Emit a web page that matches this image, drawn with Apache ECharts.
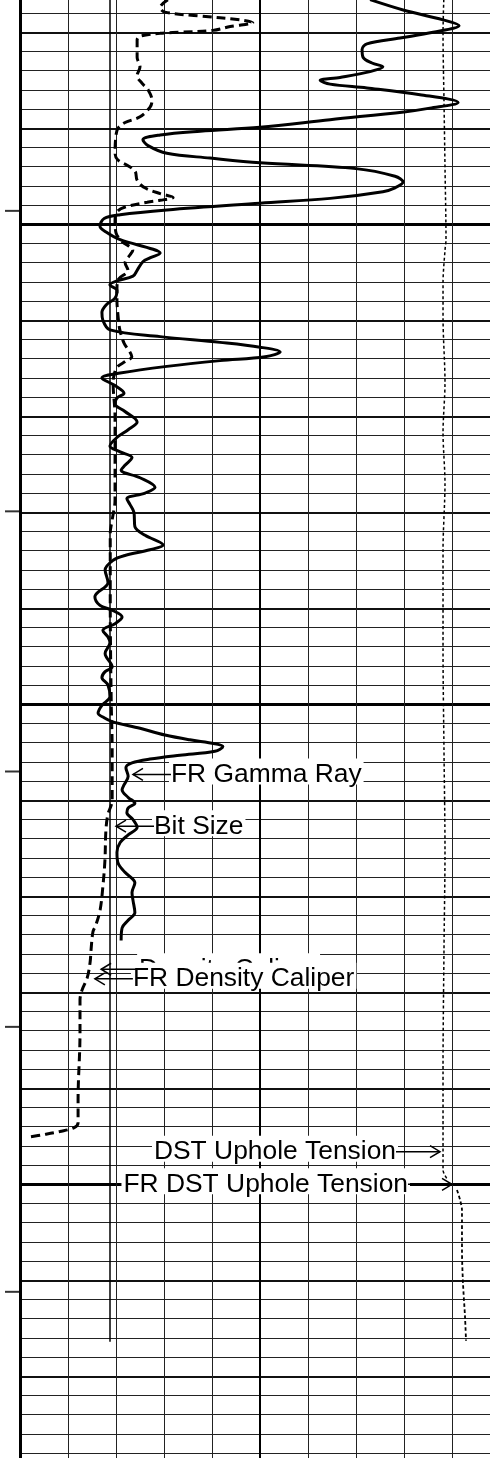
<!DOCTYPE html>
<html><head><meta charset="utf-8">
<script src="https://cdn.jsdelivr.net/npm/echarts@6/dist/echarts.min.js"></script>
<style>
html,body{margin:0;padding:0;background:#fff;overflow:hidden;width:490px;height:1458px;}
#c{position:absolute;left:0;top:-260px;width:500px;height:2200px;}
</style>
</head><body><div id="c"></div>
<script>
// ---- data (depth in ft) ----
const grDepth = [5026.6,5027.7,5028.7,5029.3,5030.0,5030.6,5031.2,5031.8,5032.6,5033.2,
5033.6,5034.1,5034.7,5035.0,5035.4,5035.8,5036.5,5037.3,5037.9,5038.3,
5039.1,5039.9,5040.3,5040.7,5041.2,5041.8,5042.6,5043.1,5043.6,5044.2,
5045.0,5045.6,5046.2,5046.6,5047.3,5047.8,5048.5,5049.0,5049.4,5050.2,
5050.8,5051.6,5052.6,5053.0,5053.5,5053.9,5054.8,5055.4,5055.9,5056.3,
5056.9,5057.7,5058.4,5059.2,5060.0,5061.0,5061.7,5062.3,5062.8,5063.3,
5063.8,5064.2,5064.8,5065.5,5066.0,5066.8,5067.6,5068.1,5068.7,5069.5,
5070.6,5071.4,5072.2,5073.1,5073.7,5074.3,5075.1,5075.6,5076.4,5077.4,
5078.0,5078.6,5079.2,5080.0,5081.5,5082.4,5083.4,5083.9,5084.5,5085.0,
5086.0,5087.3,5088.8,5089.7,5090.2,5090.9,5091.6,5092.3,5093.0,5093.6,
5094.7,5096.1,5096.6,5097.2,5098.0,5099.2,5100.1,5100.9,5101.4,5101.8,
5102.5,5103.2,5103.7,5104.1,5104.4,5104.9,5105.3,5105.7,5106.1,5106.6,
5107.5,5108.4,5108.9,5109.7,5110.3,5110.8,5111.3,5112.0,5112.8,5113.6,
5114.4,5115.4,5116.5,5117.5,5118.6,5119.6,5120.4,5121.7,5122.5,5123.3,
5124.6];
const grApi = [109.4,120.0,132.2,137.2,129.1,118.8,108.4,106.9,107.2,110.0,
113.4,109.4,100.0,93.8,96.9,108.4,125.0,136.9,128.1,120.0,
96.9,75.0,56.3,43.8,38.4,40.0,45.9,59.4,75.0,105.0,
117.2,119.7,117.2,113.4,96.9,75.0,45.9,31.3,26.3,25.0,
26.9,31.3,41.6,43.8,40.6,38.4,36.6,35.3,30.3,28.1,
30.3,29.7,26.9,25.6,25.9,28.1,43.8,62.5,75.0,81.3,
76.6,62.5,45.9,31.3,25.6,29.7,32.5,30.3,29.7,32.8,
36.6,33.8,30.3,28.1,31.3,35.0,32.8,31.6,37.5,42.2,
39.1,33.4,34.4,35.6,35.9,39.1,44.7,40.6,32.8,29.1,
26.6,27.5,23.4,25.0,28.8,31.9,29.7,25.9,27.5,28.1,
26.6,28.8,26.6,25.6,27.5,28.1,25.6,24.4,26.3,28.8,
37.5,45.3,53.1,60.9,63.4,60.9,50.0,40.6,35.0,33.1,
33.8,32.5,31.9,33.8,35.9,33.8,33.4,35.3,36.6,33.8,
31.3,30.3,30.6,32.8,35.9,35.0,35.3,35.9,33.8,31.9,
31.6];

const calDepth = [5026.6,5027.4,5027.9,5028.3,5028.7,5029.0,5029.4,5029.8,5030.0,5030.1,
5030.4,5030.8,5032.6,5033.6,5034.5,5035.3,5036.0,5037.1,5037.8,5038.8,
5039.4,5040.0,5040.7,5042.6,5043.3,5043.9,5044.5,5045.4,5046.2,5046.8,
5047.2,5047.5,5047.7,5048.2,5048.7,5049.6,5050.9,5051.8,5052.7,5053.2,
5054.0,5054.8,5055.8,5056.8,5057.9,5059.4,5061.0,5062.4,5063.3,5063.8,
5064.3,5064.9,5065.7,5066.5,5070.1,5073.5,5078.7,5080.8,5082.2,5089.1,
5099.6,5104.8,5110.0,5111.5,5113.1,5116.2,5118.8,5121.4,5123.0,5123.7,
5125.6,5126.9,5128.5,5129.8,5130.8,5134.2,5141.2,5143.6,5144.1,5144.5,
5144.8,5145.1];
const calInch = [9.08,8.92,9.02,9.75,10.58,10.85,10.38,10.02,9.33,8.92,
8.50,8.44,8.44,8.50,8.44,8.54,8.67,8.75,8.71,8.50,
8.19,8.04,8.00,7.98,8.04,8.25,8.40,8.44,8.60,8.92,
9.19,8.92,8.65,8.19,8.02,7.98,8.00,8.13,8.35,8.29,
8.19,8.25,8.04,8.02,8.02,8.04,8.08,8.17,8.29,8.33,
8.19,8.02,7.96,7.94,7.98,7.98,7.98,7.92,7.88,7.88,
7.90,7.92,7.92,7.83,7.79,7.77,7.73,7.67,7.58,7.52,
7.48,7.46,7.40,7.29,7.25,7.25,7.21,7.21,7.13,6.83,
6.52,6.15];

const bitDepth = [5026.0, 5166.4];
const bitInch = [7.875, 7.875];

const tenDepth = [5026.0,5030.1,5037.1,5044.0,5051.6,5052.7,5056.1,5059.7,5066.5,5071.7,
5077.0,5083.9,5094.3,5104.8,5115.2,5125.6,5137.8,5145.4,5148.5,5149.6];
const tenLbs = [8833,8813,8833,8854,8875,8854,8813,8813,8854,8813,
8854,8813,8813,8833,8854,8833,8813,8813,8813,8917];

const frTenDepth = [5150.6,5151.6,5152.7,5156.8,5160.3,5163.8,5166.3];
const frTenLbs = [9104,9167,9208,9208,9229,9271,9292];

const markerDepths = [5048.6, 5079.9, 5107.0, 5133.6, 5161.2];

const labelTexts  = ['FR Gamma Ray','Bit Size','Density Caliper','FR Density Caliper','DST Uphole Tension','FR DST Uphole Tension'];
const labelCurves = ['gr','cal','cal','cal','ten','ten'];
const labelValues = [35.3, 8.0, 7.69, 7.56, 8750, 9000];
const labelDepths = [5107.3, 5112.7, 5127.6, 5128.6, 5146.6, 5150.0];
const labelSides  = ['left','left','left','left','right','right'];

// ---- chart ----
const zip = (xs, ys) => ys.map((y, i) => [xs[i], y]).slice(0, Math.min(xs.length, ys.length));
const DMIN = 5000, DMAX = 5200;
const gridPos = {top: 4.3, height: 1920};
const hiddenY = (g) => ({type:'value', gridIndex:g, inverse:true, min:DMIN, max:DMAX, show:false});

const option = {
  animation: false,
  backgroundColor: '#fff',
  grid: [
    Object.assign({left: 20, width: 480}, gridPos),
    Object.assign({left: 4, width: 16}, gridPos)
  ],
  xAxis: [
    {type:'value', gridIndex:0, min:0, max:10, interval:1, axisLine:{show:false}, axisTick:{show:false}, axisLabel:{show:false},
      splitLine:{show:true, lineStyle:{color:'#222', width:1}}},
    {type:'value', gridIndex:0, min:0, max:10, interval:5, axisLine:{show:false}, axisTick:{show:false}, axisLabel:{show:false},
      splitLine:{show:true, lineStyle:{color:'#000', width:2}}},
    {type:'value', gridIndex:0, min:0, max:150, show:false},
    {type:'value', gridIndex:0, min:6, max:16, show:false},
    {type:'value', gridIndex:0, min:0, max:10000, show:false},
    {type:'value', gridIndex:1, min:0, max:1, show:false}
  ],
  yAxis: [
    {type:'value', gridIndex:0, inverse:true, min:DMIN, max:DMAX, interval:10,
      axisLine:{show:true, lineStyle:{color:'#000', width:3}}, axisTick:{show:false}, axisLabel:{show:false},
      splitLine:{show:true, lineStyle:{color:'#111', width:2}},
      minorTick:{show:false, splitNumber:5},
      minorSplitLine:{show:true, lineStyle:{color:'#222', width:1}}},
    {type:'value', gridIndex:0, inverse:true, min:DMIN, max:DMAX, interval:50,
      axisLine:{show:false}, axisTick:{show:false}, axisLabel:{show:false},
      splitLine:{show:true, lineStyle:{color:'#000', width:3}}},
    hiddenY(1)
  ],
  series: [
    {name:'FR Gamma Ray', type:'line', xAxisIndex:2, yAxisIndex:0, data: zip(grApi, grDepth),
      showSymbol:false, smooth:0.35, lineStyle:{color:'#000', width:3}, z:5},
    {name:'FR Density Caliper', type:'line', xAxisIndex:3, yAxisIndex:0, data: zip(calInch, calDepth),
      showSymbol:false, smooth:0.35, lineStyle:{color:'#000', width:3, type:[9,5]}, z:4},
    {name:'Bit Size', type:'line', xAxisIndex:3, yAxisIndex:0, data: zip(bitInch, bitDepth),
      showSymbol:false, lineStyle:{color:'#000', width:1.5}, z:3},
    {name:'DST Uphole Tension', type:'line', xAxisIndex:4, yAxisIndex:0, data: zip(tenLbs, tenDepth),
      showSymbol:false, smooth:0.3, lineStyle:{color:'#000', width:1.5, type:[3,2.5]}, z:3},
    {name:'FR DST Uphole Tension', type:'line', xAxisIndex:4, yAxisIndex:0, data: zip(frTenLbs, frTenDepth),
      showSymbol:false, smooth:0.3, lineStyle:{color:'#000', width:1.8, type:[3.5,2.5]}, z:3},
    {name:'markers', type:'scatter', xAxisIndex:5, yAxisIndex:2, data: markerDepths.map(d => [0.5, d]),
      symbol:'rect', symbolSize:[14,2], itemStyle:{color:'#000'}, silent:true}
  ]
};

const chart = echarts.init(document.getElementById('c'), null, {renderer:'canvas'});
chart.setOption(option);

// ---- annotations with arrows ----
const axisOf = {gr:2, cal:3, ten:4};
const FONT = '26.4px "Liberation Sans", Arial, sans-serif';
const mctx = document.createElement('canvas').getContext('2d');
mctx.font = FONT;
const ARROW_L = 38, ARROW_R = 44;
const els = [];
labelTexts.forEach((txt, i) => {
  const p = chart.convertToPixel({xAxisIndex: axisOf[labelCurves[i]], yAxisIndex: 0}, [labelValues[i], labelDepths[i]]);
  const px = p[0], py = p[1];
  const tw = mctx.measureText(txt).width;
  const z = 100 + i * 3;
  let textX, lx0, lx1, head;
  if (labelSides[i] === 'left') {
    textX = px + ARROW_L;
    lx0 = px; lx1 = textX;
    head = [[px + 10, py - 6], [px, py], [px + 10, py + 6]];
  } else {
    textX = px - ARROW_R - tw;
    lx0 = textX + tw; lx1 = px;
    head = [[px - 10, py - 6], [px, py], [px - 10, py + 6]];
  }
  els.push({type:'rect', z:z, shape:{x:textX - 2, y:py - 16, width:tw + 4, height:26}, style:{fill:'#fff'}});
  els.push({type:'text', z:z + 1, x:textX, y:py, style:{text:txt, font:FONT, fill:'#000', align:'left', verticalAlign:'middle'}});
  els.push({type:'line', z:200, shape:{x1:lx0, y1:py, x2:lx1, y2:py}, style:{stroke:'#000', lineWidth:1.5}});
  els.push({type:'polyline', z:200, shape:{points:head}, style:{stroke:'#000', fill:null, lineWidth:1.5}});
});
chart.setOption({graphic: els});
</script>
</body></html>
